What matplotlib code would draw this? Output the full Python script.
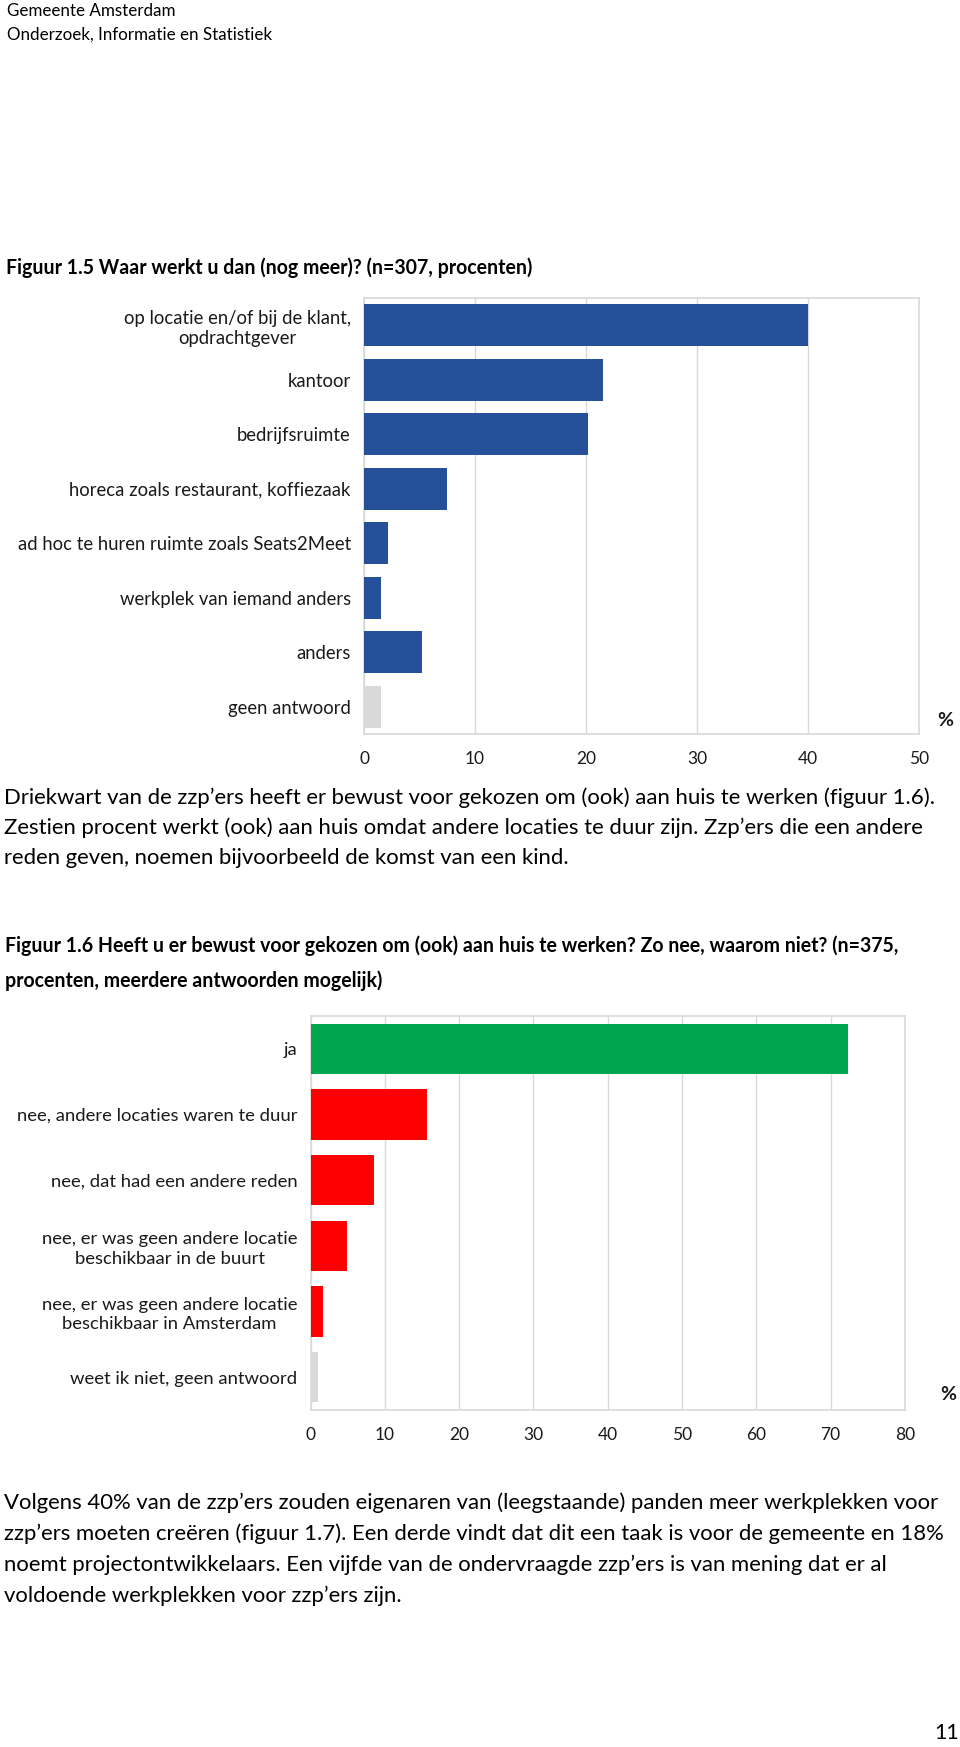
import matplotlib
matplotlib.use('Agg')
import matplotlib.pyplot as plt

plt.rcParams['font.family'] = ['Lato', 'DejaVu Sans']

# ---------------- data ----------------
fig5_categories = ['op locatie en/of bij de klant,\nopdrachtgever', 'kantoor', 'bedrijfsruimte',
                   'horeca zoals restaurant, koffiezaak', 'ad hoc te huren ruimte zoals Seats2Meet',
                   'werkplek van iemand anders', 'anders', 'geen antwoord']
fig5_values = [40.0, 21.5, 20.2, 7.5, 2.2, 1.5, 5.2, 1.5]
fig5_ticks = [0, 10, 20, 30, 40, 50]

fig6_categories = ['ja', 'nee, andere locaties waren te duur', 'nee, dat had een andere reden',
                   'nee, er was geen andere locatie\nbeschikbaar in de buurt',
                   'nee, er was geen andere locatie\nbeschikbaar in Amsterdam',
                   'weet ik niet, geen antwoord']
fig6_values = [72.3, 15.7, 8.5, 4.9, 1.7, 1.0]
fig6_ticks = [0, 10, 20, 30, 40, 50, 60, 70, 80]

header_lines = ['Gemeente Amsterdam', 'Onderzoek, Informatie en Statistiek']
title5 = 'Figuur 1.5 Waar werkt u dan (nog meer)? (n=307, procenten)'
para1 = ['Driekwart van de zzp\u2019ers heeft er bewust voor gekozen om (ook) aan huis te werken (figuur 1.6).',
         'Zestien procent werkt (ook) aan huis omdat andere locaties te duur zijn. Zzp\u2019ers die een andere',
         'reden geven, noemen bijvoorbeeld de komst van een kind.']
title6 = ['Figuur 1.6 Heeft u er bewust voor gekozen om (ook) aan huis te werken? Zo nee, waarom niet? (n=375,',
          'procenten, meerdere antwoorden mogelijk)']
para2 = ['Volgens 40% van de zzp\u2019ers zouden eigenaren van (leegstaande) panden meer werkplekken voor',
         'zzp\u2019ers moeten cre\u00ebren (figuur 1.7). Een derde vindt dat dit een taak is voor de gemeente en 18%',
         'noemt projectontwikkelaars. Een vijfde van de ondervraagde zzp\u2019ers is van mening dat er al',
         'voldoende werkplekken voor zzp\u2019ers zijn.']
page_number = '11'

# ---------------- styling ----------------
BLUE = '#27509B'
GREEN = '#00A550'
RED = '#FF0000'
GREY = '#D9D9D9'
GRID = '#D9D9D9'
TXT = '#1A1A1A'

W, H, DPI = 960, 1747, 100
fig = plt.figure(figsize=(W / DPI, H / DPI), dpi=DPI)
fig.patch.set_facecolor('white')
renderer = fig.canvas.get_renderer()


def fit_size(s, target_w, weight='normal', base=12.0):
    t = fig.text(0, 0, s, fontsize=base, fontweight=weight)
    w = t.get_window_extent(renderer).width
    t.remove()
    return base * target_w / w


def put(x, y, s, size, weight='normal', ha='left', va='center', color='black'):
    fig.text(x / W, 1 - y / H, s, fontsize=size, fontweight=weight, ha=ha, va=va, color=color)


# header
hs = fit_size(header_lines[1], 265)
put(7, 11, header_lines[0], hs)
put(7, 35, header_lines[1], hs)

# titles (bold)
ts = (fit_size(title5, 521, 'bold') + fit_size(title6[0], 889, 'bold')) / 2
put(6, 268, title5, ts, 'bold')
put(5, 946, title6[0], ts, 'bold')
put(5, 981, title6[1], ts, 'bold')

# paragraphs
ps = (fit_size(para1[0], 930) + fit_size(para1[1], 921) + fit_size(para2[0], 936) + fit_size(para2[1], 939)) / 4
for i, line in enumerate(para1):
    put(4, 798 + 30 * i, line, ps)
for i, line in enumerate(para2):
    put(4, 1503 + 31 * i, line, ps)

put(947, 1733, page_number, 15.5, ha='center')


def bar_panel(rect, cats, vals, colors, xmax, ticks, label_size, pct_xy):
    l, t, r, b = rect
    ax = fig.add_axes([l / W, 1 - b / H, (r - l) / W, (b - t) / H])
    ypos = list(range(len(cats)))
    ax.barh(ypos, vals, height=0.77, color=colors, zorder=3)
    ax.set_xlim(0, xmax)
    ax.set_ylim(len(cats) - 0.5, -0.5)
    ax.set_yticks(ypos)
    ax.set_yticklabels(cats, fontsize=label_size, color=TXT)
    for lbl in ax.get_yticklabels():
        lbl.set_multialignment('center')
        lbl.set_linespacing(1.25)
    ax.set_xticks(ticks)
    ax.set_xticklabels([str(v) for v in ticks], fontsize=12.5, color=TXT)
    ax.tick_params(axis='y', length=0, pad=9.5)
    ax.tick_params(axis='x', length=0, pad=12.5)
    ax.grid(axis='x', color=GRID, lw=1, zorder=0)
    ax.set_axisbelow(True)
    for sp in ax.spines.values():
        sp.set_color(GRID)
        sp.set_linewidth(1.2)
    put(pct_xy[0], pct_xy[1], '%', 14, 'bold', ha='center', color=TXT)
    return ax


ls5 = fit_size(fig5_categories[4], 333)
colors5 = [BLUE] * (len(fig5_values) - 1) + [GREY]
bar_panel((364, 298, 919, 734), fig5_categories, fig5_values, colors5, 50, fig5_ticks, ls5, (945, 720))

ls6 = fit_size(fig6_categories[1], 280)
colors6 = [GREEN] + [RED] * 4 + [GREY]
bar_panel((310.5, 1016, 905, 1410), fig6_categories, fig6_values, colors6, 80, fig6_ticks, ls6, (948, 1395))

fig.savefig('out.png', dpi=DPI, facecolor='white')
